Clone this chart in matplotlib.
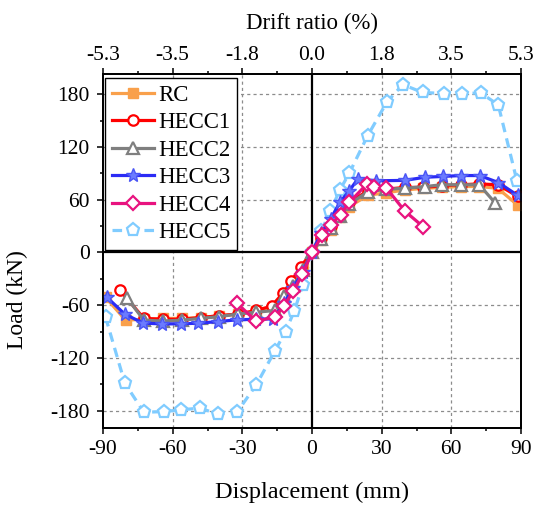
import matplotlib
matplotlib.use("Agg")
import matplotlib.pyplot as plt
from matplotlib.ticker import MultipleLocator

plt.rcParams['font.family'] = ['Liberation Serif', 'DejaVu Serif']

# ---------------- data ----------------
rc_x = [-88.9, -80.3, -72.4, -64, -56, -48, -40, -32, -24, -16, -12, -8, -4, 0,
        4, 8, 12, 16, 24, 32, 40, 48, 56, 64, 72, 80, 88.5]
rc_y = [-51, -77, -76, -75, -75, -74, -72, -70, -67, -62, -48, -35, -18, 0,
        14, 26, 40, 52, 65, 68, 71, 73, 74, 75, 75, 73, 54]

hecc1_x = [-82.7, -72.4, -64, -56, -48, -40, -32, -24, -17.4, -12.4, -8.9, -4.9, 0,
           4, 8, 12, 16, 24, 32, 40, 48, 56, 64, 72, 80, 88.5]
hecc1_y = [-43, -75, -76, -76, -74, -72, -70, -66, -61, -46, -33, -16, 0,
           16, 30, 44, 57, 70, 72, 74, 74, 76, 77, 78, 77, 64]

hecc2_x = [-79.6, -72.4, -64, -56, -48, -40, -32, -24, -16, -12, -8, -4, 0,
           4, 8, 12, 16, 24, 32, 40, 48.6, 56, 64, 72, 79]
hecc2_y = [-52, -77, -78, -77, -75, -73, -70, -68, -66, -50, -38, -20, 0,
           15, 28, 42, 55, 69, 72, 73, 75, 77, 77, 77, 56]

hecc3_x = [-88.4, -80.7, -72.7, -64.6, -56.4, -48.9, -40.3, -32.4, -24, -16.7, -12, -8, -4, 0,
           4, 8, 12, 16, 19.7, 27.6, 40, 48.5, 56.3, 64.2, 72.2, 80.3, 88.5]
hecc3_y = [-50.8, -70, -80.4, -81.2, -81.2, -80.4, -78.6, -76.6, -76, -75.5, -58, -40, -22, 0,
           22, 38, 57, 70, 83.5, 81.5, 82, 85.5, 86.5, 87.5, 87.5, 79.5, 65]

hecc4_x = [-32.4, -23.9, -16, -12, -8.1, -4.2, 0,
           4.5, 8.3, 12.3, 16.1, 23.7, 26.6, 32, 40, 48]
hecc4_y = [-57.6, -78.5, -73, -60.5, -44, -25, 0,
           20, 31.5, 43, 57, 78, 75, 73.3, 47, 29]

hecc5_x = [-88.9, -80.6, -72.4, -63.9, -56.3, -48.4, -40.6, -32.4, -24, -16, -11.4, -7.7, -3.9, 0,
           4, 7.9, 11.9, 16.1, 24, 32.3, 39.1, 47.6, 56.9, 64.4, 72.6, 80.2, 88.3]
hecc5_y = [-73.6, -148.7, -181.8, -181, -179, -177, -183.7, -182, -150.7, -112, -90, -67, -36.8, 0,
           24.7, 46.7, 70.6, 90.4, 133, 171.3, 191, 182, 180.8, 180.8, 181.5, 168, 80.9]

disp_ticks = [-90, -60, -30, 0, 30, 60, 90]
drift_labels = ['-5.3', '-3.5', '-1.8', '0.0', '1.8', '3.5', '5.3']
load_ticks = [-180, -120, -60, 0, 60, 120, 180]

# ---------------- figure ----------------
fig = plt.figure(figsize=(5.36, 5.09), dpi=100)
ax = fig.add_axes([103/536, 1-428.3/509, 418/536, (428.3-74)/509])

ax.set_xlim(-90, 90)
ax.set_ylim(-200, 203)

# grid and zero lines
for v in disp_ticks:
    if v not in (0, -90, 90):
        ax.axvline(v, color='#8c8c8c', lw=0.9, ls=(0, (2.5, 2.5)), zorder=0)
for v in load_ticks:
    if v != 0:
        ax.axhline(v, color='#8c8c8c', lw=0.9, ls=(0, (2.5, 2.5)), zorder=0)
ax.axhline(0, color='black', lw=1.6, zorder=1)
ax.axvline(0, color='black', lw=1.6, zorder=1)

lw = 2.3
mew = 1.6
ax.plot(rc_x, rc_y, color='#F9A04B', lw=lw, marker='s', ms=7, mfc='#F9A04B', mec='#F9A04B',
        label='RC', zorder=3)
ax.plot(hecc1_x, hecc1_y, color='#FF0000', lw=lw, marker='o', ms=7.5, mfc='white', mec='#FF0000',
        mew=mew, label='HECC1', zorder=4)
ax.plot(hecc2_x, hecc2_y, color='#7F7F7F', lw=lw, marker='^', ms=8.5, mfc='white', mec='#7F7F7F',
        mew=mew, label='HECC2', zorder=5)
ax.plot(hecc3_x, hecc3_y, color='#2B2BF5', lw=lw, marker='*', ms=10, mfc='#6B7BFF', mec='#4A55F5',
        mew=1.0, label='HECC3', zorder=6)
ax.plot(hecc4_x, hecc4_y, color='#E8137F', lw=lw, marker='D', ms=7.5, mfc='white', mec='#E8137F',
        mew=mew, label='HECC4', zorder=7)
ax.plot(hecc5_x, hecc5_y, color='#80CCFF', lw=lw, ls=(0, (3, 2)), marker='p', ms=9.5, mfc='white',
        mec='#80CCFF', mew=mew, label='HECC5', zorder=2)

# ticks
ax.set_xticks(disp_ticks)
ax.set_xticklabels([str(t) for t in disp_ticks])
ax.xaxis.set_minor_locator(MultipleLocator(15))
ax.set_yticks(load_ticks)
ax.set_yticklabels([str(t) for t in load_ticks])
ax.yaxis.set_minor_locator(MultipleLocator(30))
ax.tick_params(which='major', direction='out', length=4.5, width=1.1, labelsize=15.5, pad=4)
ax.tick_params(axis='y', which='major', pad=5)
ax.tick_params(which='minor', direction='out', length=2.5, width=1.1)
ax.tick_params(axis='y', right=False, which='both')
for s in ax.spines.values():
    s.set_linewidth(1.3)

ax.set_xlabel('Displacement (mm)', fontsize=17.5)
ax.xaxis.set_label_coords(0.5, -0.152)
ax.set_ylabel('Load (kN)', fontsize=17)
ax.yaxis.set_label_coords(-0.18, 0.362)

top = ax.twiny()
top.set_xlim(ax.get_xlim())
top.set_xticks(disp_ticks)
top.set_xticklabels(drift_labels)
top.xaxis.set_minor_locator(MultipleLocator(15))
top.tick_params(which='major', direction='out', length=4.5, width=1.1, labelsize=15.5, pad=2)
top.tick_params(which='minor', direction='out', length=2.5, width=1.1)
top.set_xlabel('Drift ratio (%)', fontsize=16.5, labelpad=12)
for s in top.spines.values():
    s.set_linewidth(1.3)

leg = ax.legend(loc='upper left', bbox_to_anchor=(0.005, 0.989), fontsize=16.5, frameon=True,
                fancybox=False, edgecolor='black', framealpha=1, handlelength=1.85,
                handletextpad=0.15, borderpad=0.3, labelspacing=0.28, borderaxespad=0)
leg.get_frame().set_linewidth(1.0)

fig.savefig('out.png', dpi=100)
